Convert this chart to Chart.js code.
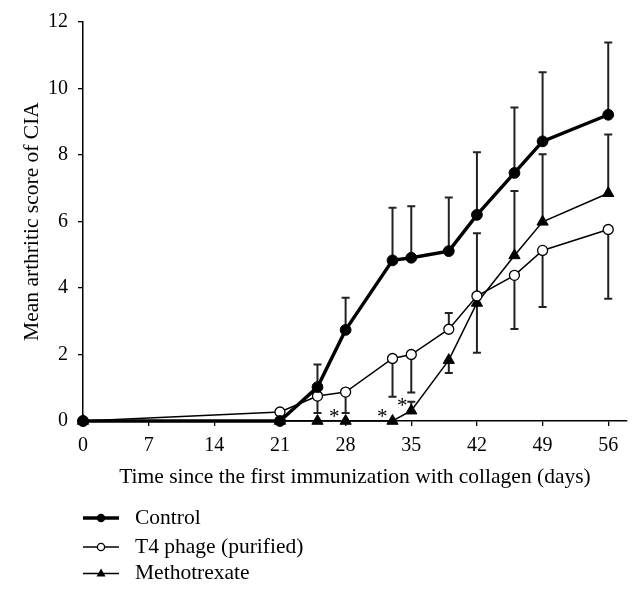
<!DOCTYPE html>
<html>
<head>
<meta charset="utf-8">
<script src="https://cdn.jsdelivr.net/npm/chart.js@4.4.1/dist/chart.umd.min.js"></script>
<style>
html,body{margin:0;padding:0;background:#fff;}
#wrap{width:642px;height:595px;position:relative;}
</style>
</head>
<body>
<div id="wrap"><canvas id="c" width="642" height="595"></canvas></div>
<script>
// ---- data ----
const days = [0, 21, 25, 28, 33, 35, 39, 42, 46, 49, 56];
const xTicks = [0, 7, 14, 21, 28, 35, 42, 49, 56];
const controlMean = [0, 0, 1.02, 2.74, 4.83, 4.91, 5.11, 6.20, 7.46, 8.41, 9.21];
const controlErrEnd = [null, null, 1.70, 3.71, 6.41, 6.46, 6.72, 8.08, 9.43, 10.49, 11.38];
const t4Mean = [0, 0.27, 0.75, 0.87, 1.88, 2.00, 2.76, 3.76, 4.38, 5.13, 5.76];
const t4ErrEnd = [null, null, 0.24, 0.24, 0.73, 0.86, 3.25, 5.65, 2.77, 3.43, 3.68];
const mtxMean = [0, 0, 0, 0, 0, 0.31, 1.83, 3.55, 4.98, 5.99, 6.85];
const mtxErrEnd = [null, null, null, null, null, 0.58, 1.44, 2.05, 6.92, 8.02, 8.62];
const seriesNames = ['Control', 'T4 phage (purified)', 'Methotrexate'];
const asteriskMarks = [[26.8, 0.23], [31.9, 0.23], [34.05, 0.55]];

const FONT = "'Liberation Serif', 'Times New Roman', serif";

function pts(arr){ return arr.map((v,i)=>({x: days[i], y: v})); }

const errPlugin = {
  id: 'errbars',
  beforeDatasetsDraw(chart){
    const ctx = chart.ctx, xs = chart.scales.x, ys = chart.scales.y;
    ctx.save();
    ctx.strokeStyle = '#222';
    ctx.lineWidth = 2;
    chart.data.datasets.forEach(ds=>{
      if(!ds.errEnds) return;
      ds.errEnds.forEach((e,i)=>{
        if(e===null) return;
        const px = xs.getPixelForValue(days[i]);
        const p0 = ys.getPixelForValue(ds.data[i].y);
        const p1 = ys.getPixelForValue(e);
        ctx.beginPath();
        ctx.moveTo(px, p0); ctx.lineTo(px, p1);
        ctx.moveTo(px-4, p1); ctx.lineTo(px+4, p1);
        ctx.stroke();
      });
    });
    ctx.restore();
  },
  afterDatasetsDraw(chart){
    const ctx = chart.ctx, xs = chart.scales.x, ys = chart.scales.y;
    ctx.save();
    ctx.fillStyle = '#000';
    ctx.font = "21px " + FONT;
    ctx.textAlign = 'center';
    ctx.textBaseline = 'middle';
    asteriskMarks.forEach(([d,v])=>{
      ctx.fillText('*', xs.getPixelForValue(d), ys.getPixelForValue(v)+4);
    });
    ctx.restore();
  }
};

const legendPlugin = {
  id: 'customLegend',
  afterDraw(chart){
    const ctx = chart.ctx;
    const rows = [518, 547, 573.5];
    ctx.save();
    chart.data.datasets.forEach((ds,i)=>{
      const y = rows[i];
      ctx.strokeStyle = '#000';
      ctx.lineWidth = ds.borderWidth;
      ctx.beginPath(); ctx.moveTo(83, y); ctx.lineTo(119, y); ctx.stroke();
      const cx = 101;
      ctx.lineWidth = 1.3;
      if(ds.pointStyle === 'triangle'){
        ctx.fillStyle = '#000';
        ctx.beginPath();
        ctx.moveTo(cx, y-5); ctx.lineTo(cx+4.5, y+3); ctx.lineTo(cx-4.5, y+3); ctx.closePath(); ctx.fill();
      } else {
        ctx.fillStyle = ds.pointBackgroundColor;
        ctx.beginPath(); ctx.arc(cx, y, 3.6, 0, Math.PI*2); ctx.fill(); ctx.stroke();
      }
      ctx.fillStyle = '#000';
      ctx.font = "21.5px " + FONT;
      ctx.textAlign = 'left';
      ctx.textBaseline = 'middle';
      ctx.fillText(ds.label, 135, y);
    });
    ctx.restore();
  }
};

new Chart(document.getElementById('c'), {
  type: 'line',
  data: {
    datasets: [
      { label: seriesNames[0], data: pts(controlMean), errEnds: controlErrEnd, clip: false,
        borderColor: '#000', borderWidth: 3.4, pointStyle: 'circle', pointRadius: 5.4,
        pointBackgroundColor: '#000', pointBorderColor: '#000', pointBorderWidth: 1, order: 1 },
      { label: seriesNames[1], data: pts(t4Mean), errEnds: t4ErrEnd, clip: false,
        borderColor: '#000', borderWidth: 1.5, pointStyle: 'circle', pointRadius: 5,
        pointBackgroundColor: '#fff', pointBorderColor: '#000', pointBorderWidth: 1.3, order: 2 },
      { label: seriesNames[2], data: pts(mtxMean), errEnds: mtxErrEnd, clip: false,
        borderColor: '#000', borderWidth: 1.5, pointStyle: 'triangle', pointRadius: 6.5,
        pointBackgroundColor: '#000', pointBorderColor: '#000', pointBorderWidth: 1, order: 3 }
    ]
  },
  options: {
    responsive: false,
    animation: false,
    devicePixelRatio: 1,
    layout: { padding: { left: 0, right: 15, top: 21, bottom: 105 } },
    plugins: { legend: { display: false }, tooltip: { enabled: false } },
    elements: { line: { tension: 0 } },
    scales: {
      x: {
        type: 'linear', min: 0, max: 58,
        afterBuildTicks: s => { s.ticks = xTicks.map(v=>({value:v})); },
        afterFit: s => { s.height = 69; },
        grid: { display: true, drawOnChartArea: false, drawTicks: true, tickLength: 5, color: '#000', lineWidth: 1.3 },
        border: { display: true, color: '#000', width: 1.5 },
        ticks: { color: '#000', font: { family: FONT, size: 20 }, padding: 8, maxRotation: 0, autoSkip: false },
        title: { display: true, text: 'Time since the first immunization with collagen (days)', color: '#000',
                 font: { family: FONT, size: 21.5 }, padding: { top: 6, bottom: 0 } }
      },
      y: {
        min: 0, max: 12,
        afterFit: s => { s.width = 83; },
        grid: { display: true, drawOnChartArea: false, drawTicks: true, tickLength: 5, color: '#000', lineWidth: 1.3 },
        border: { display: true, color: '#000', width: 1.5 },
        ticks: { stepSize: 2, color: '#000', font: { family: FONT, size: 20 }, padding: 10 },
        title: { display: true, text: 'Mean arthritic score of CIA', color: '#000',
                 font: { family: FONT, size: 21.5 }, padding: { top: 19, bottom: 0 } }
      }
    }
  },
  plugins: [errPlugin, legendPlugin]
});
</script>
</body>
</html>
